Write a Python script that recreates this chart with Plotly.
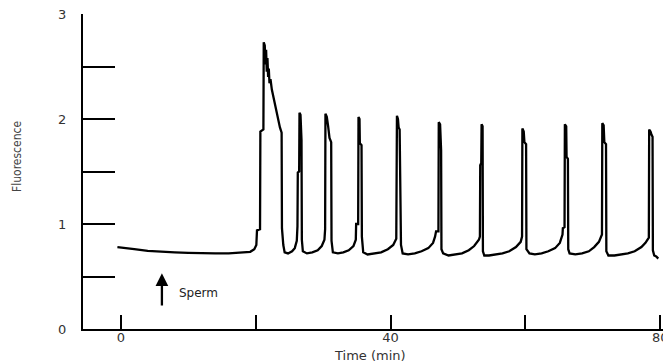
import plotly.graph_objects as go

# Time (min) and fluorescence
time_min = [
    -0.5, 0.5, 2, 4, 6, 8, 10, 12, 14, 16, 18, 19.2, 19.8, 20.1,
    20.2, 20.65, 20.7, 21.15, 21.2, 21.35, 21.45, 21.55, 21.65, 21.75, 21.85, 21.95, 22.05, 22.2,
    22.4, 22.6, 22.8, 23.0, 23.2, 23.4, 23.6, 23.85, 23.9, 24.1, 24.3,
    24.8, 25.4, 25.8, 26.1,
    26.2, 26.25, 26.45, 26.5, 26.65, 26.7, 26.8, 26.85, 27.0,
    27.6, 28.4, 29.2, 29.8, 30.2,
    30.3, 30.35, 30.55, 30.75, 30.95, 31.2, 31.25, 31.45,
    32.2, 33.0, 33.8, 34.5, 34.85,
    34.9, 35.2, 35.25, 35.4, 35.45, 35.7, 35.75, 35.95,
    36.6, 37.6, 38.6, 39.6, 40.4, 40.85,
    40.95, 41.1, 41.2, 41.35, 41.4, 41.5, 41.55, 41.8,
    42.6, 43.6, 44.6, 45.6, 46.3, 46.6,
    46.75, 47.1, 47.15, 47.35, 47.4, 47.5, 47.55, 47.8,
    48.6, 49.6, 50.6, 51.6, 52.4, 53.1,
    53.25, 53.3, 53.45, 53.5, 53.65, 53.7, 53.9,
    54.6, 55.6, 56.6, 57.6, 58.6, 59.3, 59.5,
    59.55, 59.75, 59.85, 60.1, 60.15, 60.6,
    61.4, 62.4, 63.4, 64.4, 65.1, 65.5,
    65.55, 65.8, 65.85, 66.05, 66.1, 66.3, 66.35, 66.55,
    67.4, 68.4, 69.4, 70.2, 70.9, 71.2,
    71.35, 71.4, 71.6, 71.7, 71.95, 72.0, 72.3,
    73.2, 74.2, 75.2, 76.2, 77.2, 77.8, 78.2,
    78.3, 78.35, 78.55, 78.7, 78.85, 78.9, 79.1, 79.4, 79.7,
]
fluorescence = [
    0.78, 0.77, 0.76, 0.745, 0.735, 0.73, 0.725, 0.72, 0.72, 0.72, 0.725, 0.735, 0.76, 0.80,
    0.94, 0.95, 1.88, 1.90, 2.73, 2.70, 2.52, 2.66, 2.45, 2.58, 2.40, 2.48, 2.34, 2.38,
    2.28, 2.22, 2.18, 2.10, 2.05, 1.97, 1.92, 1.87, 0.96, 0.80, 0.73,
    0.72, 0.74, 0.77, 0.84,
    0.98, 1.49, 1.50, 2.06, 2.04, 1.82, 1.80, 0.85, 0.74,
    0.72, 0.73, 0.75, 0.79, 0.85,
    0.95, 2.05, 2.02, 1.93, 1.82, 1.78, 0.84, 0.73,
    0.72, 0.73, 0.75, 0.79, 0.85,
    1.00, 1.00, 2.02, 2.00, 1.77, 1.75, 0.88, 0.73,
    0.71, 0.72, 0.73, 0.76, 0.80, 0.86,
    2.03, 2.00, 1.92, 1.90, 1.62, 1.60, 0.80, 0.72,
    0.71, 0.72, 0.74, 0.77, 0.82, 0.88,
    0.93, 0.93, 1.97, 1.95, 1.72, 1.70, 0.76, 0.72,
    0.70, 0.71, 0.72, 0.75, 0.79, 0.85,
    0.88, 1.56, 1.58, 1.95, 1.93, 0.74, 0.70,
    0.70, 0.71, 0.72, 0.74, 0.78, 0.83, 0.88,
    1.91, 1.88, 1.78, 1.76, 0.76, 0.72,
    0.71, 0.72, 0.74, 0.77, 0.82, 0.90,
    0.96, 0.97, 1.95, 1.93, 1.64, 1.62, 0.76, 0.72,
    0.71, 0.72, 0.74, 0.78, 0.83, 0.87,
    0.90, 1.96, 1.94, 1.78, 1.76, 0.74, 0.70,
    0.70, 0.71, 0.72, 0.74, 0.78, 0.82, 0.86,
    0.87, 1.90, 1.88, 1.85, 1.83, 0.75, 0.70, 0.69, 0.67,
]

x_tick_vals = [0, 20, 40, 60, 80]
x_tick_text = ["0", "", "40", "", "80"]
y_tick_vals = [0, 1, 2, 3]

x_title = "Time (min)"
y_title = "Fluorescence"
sperm_time = 6.1
sperm_label = "Sperm"

fig = go.Figure()
fig.add_trace(go.Scatter(
    x=time_min, y=fluorescence, mode="lines",
    line=dict(color="black", width=2.3),
    hoverinfo="skip", showlegend=False,
))

tick_font = dict(family="DejaVu Sans, sans-serif", size=13, color="#333333")

fig.update_layout(
    width=663, height=364,
    margin=dict(l=83, r=0, t=14, b=35),
    paper_bgcolor="white", plot_bgcolor="white",
    xaxis=dict(
        range=[-5.6, 80.4], showline=True, linecolor="black", linewidth=2,
        ticks="inside", ticklen=14, tickwidth=2, tickcolor="black",
        tickvals=x_tick_vals, ticktext=x_tick_text, tickfont=tick_font,
        ticklabelstandoff=-5, ticklabeloverflow="allow",
        showgrid=False, zeroline=False, automargin=False,
    ),
    yaxis=dict(
        range=[0, 3], showline=True, linecolor="black", linewidth=2,
        ticks="inside", ticklen=32, tickwidth=1.8, tickcolor="black",
        tickvals=y_tick_vals, tickfont=tick_font, ticklabelstandoff=12,
        minor=dict(dtick=0.5, ticks="inside", ticklen=32, tickwidth=1.5, tickcolor="black", showgrid=False),
        showgrid=False, zeroline=False, automargin=False,
    ),
)

# Axis titles
fig.add_annotation(
    x=0.5, y=0, xref="paper", yref="paper", xshift=-3, yshift=-26,
    text=x_title, showarrow=False, xanchor="center", yanchor="middle",
    font=dict(family="DejaVu Sans, sans-serif", size=13, color="#333333"),
)
fig.add_annotation(
    x=0, y=(329 - 157) / 315, xref="paper", yref="paper", xshift=-66,
    text=y_title, textangle=-90, showarrow=False, xanchor="center", yanchor="middle",
    font=dict(family="DejaVu Sans Condensed, Liberation Sans Narrow, Roboto, sans-serif", size=12, color="#444444"),
)

fig.add_annotation(
    x=sperm_time, y=0.53, ax=sperm_time, ay=0.21,
    xref="x", yref="y", axref="x", ayref="y",
    text="", showarrow=True, arrowhead=2, arrowsize=1.1, arrowwidth=2.3, arrowcolor="black",
)
fig.add_annotation(
    x=sperm_time + 2.2, y=0.34, xref="x", yref="y",
    text=sperm_label, showarrow=False, xanchor="left", yanchor="middle",
    font=dict(family="DejaVu Sans, sans-serif", size=12, color="#222222"),
)

fig.write_html(
    "out.html",
    config={"displayModeBar": False},
    post_script="document.body.style.margin='0';document.body.style.overflow='hidden';",
)
